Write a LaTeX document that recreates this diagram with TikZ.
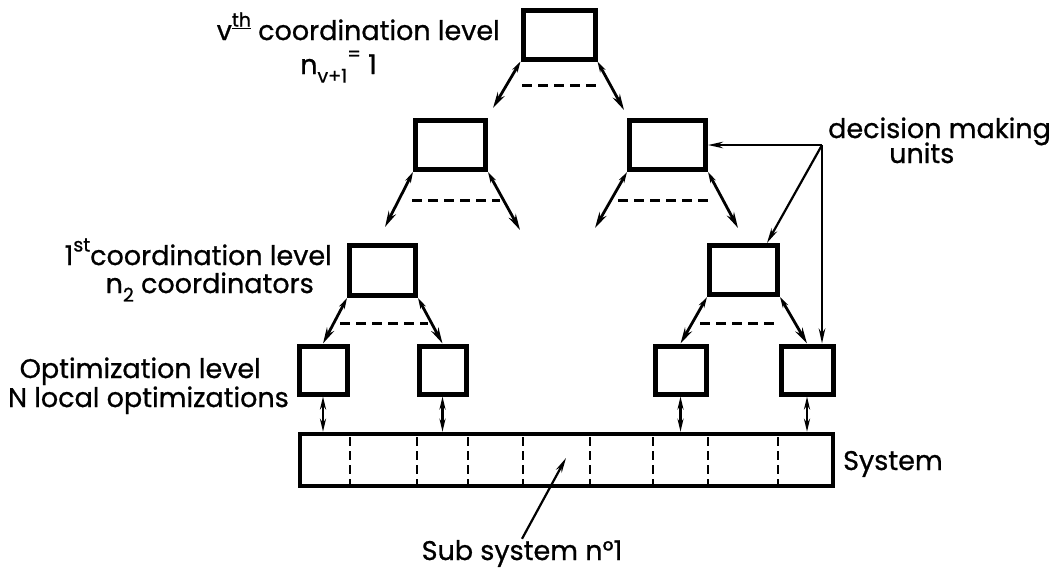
\documentclass[tikz,border=0pt]{standalone}
\usepackage{fontspec}
\setmainfont{Poppins}[FakeBold=0.8]
\usetikzlibrary{arrows.meta}

% raised and lowered small text for indices
\newcommand\uppart[1]{\raisebox{0.5em}{\fontsize{19}{19}\selectfont #1}}
\newcommand\lowpart[1]{\raisebox{-0.32em}{\fontsize{19}{19}\selectfont #1}}

\begin{document}
\begin{tikzpicture}[x=1pt,y=-1pt,
  unit/.style={draw, line width=5pt, inner sep=0pt},
  lbl/.style={font=\fontsize{27}{30}\selectfont, inner sep=1pt},
  link/.style={line width=2.8pt,
    arrows={Stealth[length=11pt,width=6pt]-Stealth[length=16pt,width=8pt]}},
  vlink/.style={line width=2.6pt,
    arrows={Stealth[length=13pt,width=6pt]-Stealth[length=13pt,width=6pt]}},
  pointer/.style={line width=2.2pt, arrows={-Stealth[length=15pt,width=6.5pt]}},
  ellipsis/.style={line width=3pt, dash pattern=on 10pt off 6pt},
  cut/.style={line width=2.3pt, dash pattern=on 9pt off 5pt}]

\useasboundingbox (0,0) rectangle (1062,568);

% decision making units, level by level
\node[unit, minimum width=72pt, minimum height=49pt] (top) at (559,34.5) {};
\node[unit, minimum width=70pt, minimum height=49pt] (midL) at (450.5,145) {};
\node[unit, minimum width=76pt, minimum height=49pt] (midR) at (667.5,145) {};
\node[unit, minimum width=66pt, minimum height=50pt] (coL) at (382.5,270.5) {};
\node[unit, minimum width=68pt, minimum height=49pt] (coR) at (743.5,270) {};
\node[unit, minimum width=48pt, minimum height=48pt] (opA) at (323,370) {};
\node[unit, minimum width=47pt, minimum height=48pt] (opB) at (442.5,370) {};
\node[unit, minimum width=51pt, minimum height=48pt] (opC) at (680.5,370) {};
\node[unit, minimum width=52pt, minimum height=48pt] (opD) at (807,370) {};

% the system bar and its subsystems
\node[draw, line width=4.5pt, inner sep=0pt, minimum width=533pt, minimum height=52pt] (bar) at (566.5,460) {};
\foreach \x in {350,417,468,523,590,653,708,778}
  \draw[cut] (\x,437) -- (\x,484);

% free ends of the fan-out arrows
\coordinate (t1) at (493,108);
\coordinate (t2) at (624,110);
\coordinate (l1) at (385,227);
\coordinate (l2) at (520,230);
\coordinate (r1) at (595,228);
\coordinate (r2) at (738,228);

\draw[link] (top.south west) -- (t1);
\draw[link] (top.south east) -- (t2);
\draw[link] (midL.south west) -- (l1);
\draw[link] (midL.south east) -- (l2);
\draw[link] (midR.south west) -- (r1);
\draw[link] (midR.south east) -- (r2);
\draw[link] (coL.south west) -- (opA.north);
\draw[link] (coL.south east) -- (opB.north);
\draw[link] (coR.south west) -- (opC.north);
\draw[link] (coR.south east) -- (opD.north);

% dashes standing for the omitted branches
\draw[ellipsis] (522,85) -- (598,85);
\draw[ellipsis] (412,200) -- (500,200);
\draw[ellipsis] (618,200) -- (708,200);
\draw[ellipsis] (340,323) -- (428,323);
\draw[ellipsis] (700,323) -- (780,323);

% optimizers to the system
\foreach \u in {opA,opB,opC,opD}
  \draw[vlink] (\u.south) -- (\u.south |- bar.north);

% labels
\node[lbl, inner sep=0pt, anchor=base east] (vth) at (500,40) {v\uppart{\underline{th}} coordination level};
\node[lbl, inner sep=0pt, anchor=base east] (nv) at (377,74) {n\lowpart{v+1}\uppart{=} 1};
\node[lbl, anchor=base east] (first1) at (333,265) {1\uppart{st}coordination level};
\node[lbl, anchor=base east] (first2) at (315,293) {n\lowpart{2} coordinators};
\node[lbl, anchor=base east] (opt1) at (262,378) {Optimization level};
\node[lbl, anchor=base east] (opt2) at (290,407) {N local optimizations};
\node[lbl, anchor=base west] (dmu1) at (827,138) {decision making};
\node[lbl, anchor=base west] (dmu2) at (888,163) {units};
\node[lbl, anchor=base west] (sys) at (842,470) {System};
\node[lbl, anchor=base] (sub) at (522,560) {Sub system n°1};

% pointers from the labels
\coordinate (dm) at (822,145);
\draw[pointer] (dm) -- (midR.east);
\draw[pointer] (dm) -- (coR.49);
\draw[pointer] (dm) -- (dm |- opD.north);
\coordinate (subtip) at (566,458);
\draw[pointer] (sub.north) -- (subtip);
\end{tikzpicture}
\end{document}
